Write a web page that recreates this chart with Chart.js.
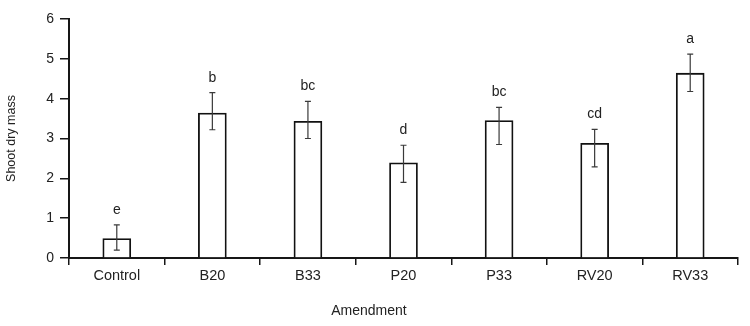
<!DOCTYPE html>
<html><head><meta charset="utf-8">
<script src="https://cdn.jsdelivr.net/npm/chart.js@4/dist/chart.umd.min.js"></script>
<style>html,body{margin:0;padding:0;background:#fff}#wrap{width:750px;height:326px}</style>
</head><body><div id="wrap"><canvas id="c"></canvas></div>
<script>
const categories = ['Control','B20','B33','P20','P33','RV20','RV33'];
const meanValues = [0.49, 3.64, 3.43, 2.39, 3.45, 2.88, 4.64];
const errUpper = [0.83, 4.15, 3.93, 2.83, 3.78, 3.23, 5.12];
const errLower = [0.20, 3.22, 3.00, 1.90, 2.85, 2.29, 4.18];
const letters = ['e','b','bc','d','bc','cd','a'];
const yTicks = [0,1,2,3,4,5,6];

const FONT = "'Liberation Sans', Arial, sans-serif";
const TXT = '#222';
const AX = '#161616';

const errPlugin = {
  id: 'errbars',
  afterDatasetsDraw(chart) {
    const ctx = chart.ctx, x = chart.scales.x, y = chart.scales.y;
    ctx.save();
    categories.forEach((c, i) => {
      const px = x.getPixelForValue(i);
      const yt = y.getPixelForValue(errUpper[i]);
      const yb = y.getPixelForValue(errLower[i]);
      ctx.strokeStyle = '#3a3a3a';
      ctx.lineWidth = 1.2;
      ctx.beginPath();
      ctx.moveTo(px, yt); ctx.lineTo(px, yb);
      ctx.moveTo(px - 3, yt); ctx.lineTo(px + 3, yt);
      ctx.moveTo(px - 3, yb); ctx.lineTo(px + 3, yb);
      ctx.stroke();
      ctx.fillStyle = TXT;
      ctx.font = '14px ' + FONT;
      ctx.textAlign = 'center';
      ctx.textBaseline = 'alphabetic';
      ctx.fillText(letters[i], px, yt - 11);
    });
    ctx.restore();
  }
};

new Chart(document.getElementById('c'), {
  type: 'bar',
  data: {
    labels: categories,
    datasets: [{
      data: meanValues,
      backgroundColor: '#ffffff',
      borderColor: '#111',
      borderWidth: 1.8,
      barThickness: 28
    }]
  },
  options: {
    responsive: true,
    maintainAspectRatio: false,
    animation: false,
    layout: { padding: { left: 0, right: 12, top: 19, bottom: 0 } },
    plugins: {
      legend: { display: false },
      tooltip: { enabled: false },
      title: {
        display: true, position: 'bottom', text: 'Amendment', color: TXT,
        font: { family: FONT, size: 14, weight: 'normal' },
        padding: { top: 0, bottom: 6 }
      }
    },
    scales: {
      x: {
        offset: true,
        grid: { offset: true, drawOnChartArea: false, drawTicks: true, tickLength: 7, color: AX, lineWidth: 1.5 },
        border: { color: AX, width: 2 },
        ticks: { color: TXT, font: { family: FONT, size: 14.5 }, padding: 2, maxRotation: 0 },
        afterFit(s) { s.height = 45.2; }
      },
      y: {
        min: 0, max: 6,
        afterBuildTicks(s) { s.ticks = yTicks.map(v => ({ value: v })); },
        grid: { drawOnChartArea: false, drawTicks: true, tickLength: 9, color: AX, lineWidth: 1.5 },
        border: { color: AX, width: 2 },
        ticks: { color: TXT, font: { family: FONT, size: 14 }, padding: 6 },
        title: { display: true, text: 'Shoot dry mass', color: TXT, font: { family: FONT, size: 12.5 }, padding: { top: 4, bottom: 0 } },
        afterFit(s) { s.width = 69; }
      }
    }
  },
  plugins: [errPlugin]
});
</script></body></html>
